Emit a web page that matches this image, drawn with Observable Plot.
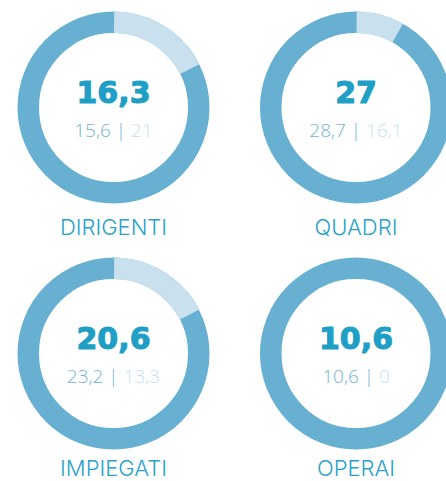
<!DOCTYPE html>
<html><head><meta charset="utf-8">
<script src="https://cdn.jsdelivr.net/npm/d3@7"></script>
<script src="https://cdn.jsdelivr.net/npm/@observablehq/plot@0.6"></script>
<style>body{margin:0;background:#fff;overflow:hidden}</style>
</head><body><div id="chart"></div>
<script>
// Data
const categories = ["DIRIGENTI", "QUADRI", "IMPIEGATI", "OPERAI"];
const totals = [16.3, 27, 20.6, 10.6];
const firstValues = [15.6, 28.7, 23.2, 10.6];
const secondValues = [21, 16.1, 13.3, 0];
const lightShares = [0.174, 0.08, 0.173, 0]; // share of the ring in the light colour (estimated)

const darkRing = "#67b0d2", lightRing = "#c9e1ee";
const bigColor = "#1f9fc6", midColor = "#74b4d5", paleColor = "#c6dfee", labelColor = "#2ba2c9";

const fmt = v => String(v).replace(".", ",");
const data = categories.map((name, i) => ({
  name, total: totals[i], first: firstValues[i], second: secondValues[i], light: lightShares[i],
  col: i % 2, row: Math.floor(i / 2)
}));

const R = 85.25, SW = 21.5, C = 2 * Math.PI * R;
const subSize = 19;
const ctx = document.createElement("canvas").getContext("2d");
ctx.font = `300 ${subSize}px 'Open Sans'`;
const measure = t => ctx.measureText(t).width;

const perDonut = data.flatMap(d => {
  const a = fmt(d.first) + " | ", b = fmt(d.second);
  const w1 = measure(a), w = w1 + measure(b);
  return [
    Plot.dot([d], {x: "col", y: "row", r: R, fill: "none", stroke: lightRing, strokeWidth: SW,
      strokeDasharray: `${d.light * C} ${C}`, strokeDashoffset: -0.75 * C}),
    Plot.text([d], {x: "col", y: "row", text: () => a, textAnchor: "start", lineAnchor: "bottom",
      dx: -w / 2, dy: 29.5, fontFamily: "Open Sans", fontWeight: 300, fontSize: subSize, fill: midColor}),
    Plot.text([d], {x: "col", y: "row", text: () => b, textAnchor: "start", lineAnchor: "bottom",
      dx: -w / 2 + w1, dy: 29.5, fontFamily: "Open Sans", fontWeight: 300, fontSize: subSize, fill: paleColor})
  ];
});

const labelMarks = [0, 1].map(r => Plot.text(data.filter(d => d.row === r), {
  x: "col", y: "row", text: "name", lineAnchor: "bottom", dy: r === 0 ? 127 : 122,
  fontFamily: "Inter", fontWeight: 300, fontSize: 22, fill: labelColor
}));

const chart = Plot.plot({
  width: 446, height: 481, margin: 0,
  x: {domain: [0, 1], range: [113, 355.5], axis: null},
  y: {domain: [0, 1], range: [107, 353], axis: null},
  marks: [
    Plot.dot(data, {x: "col", y: "row", r: R, fill: "none", stroke: darkRing, strokeWidth: SW}),
    ...perDonut,
    Plot.text(data, {x: "col", y: "row", text: d => fmt(d.total), lineAnchor: "bottom", dy: -4.5,
      fontFamily: "DejaVu Sans", fontWeight: "bold", fontSize: 30, fill: bigColor,
      stroke: bigColor, strokeWidth: 1.1}),
    ...labelMarks
  ]
});
document.getElementById("chart").append(chart);
</script></body></html>
